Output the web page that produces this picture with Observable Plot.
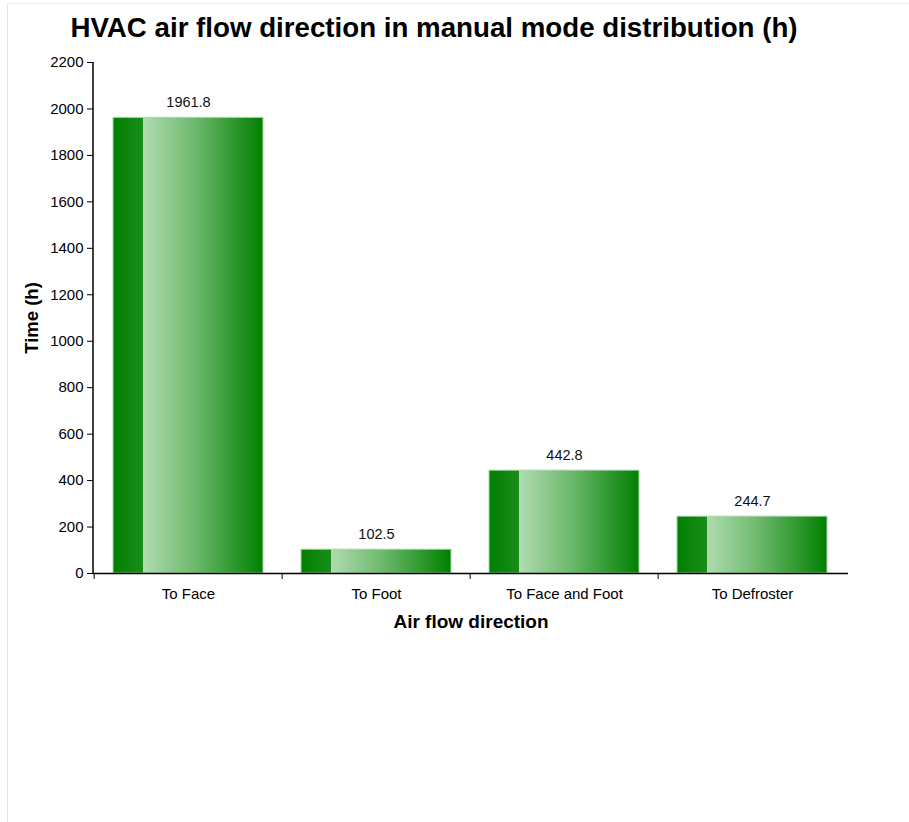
<!DOCTYPE html>
<html>
<head>
<meta charset="utf-8">
<script src="https://cdn.jsdelivr.net/npm/d3@7"></script>
<script src="https://cdn.jsdelivr.net/npm/@observablehq/plot@0.6"></script>
<style>
  html, body { margin: 0; padding: 0; background: #fff; }
  body { font-family: "Liberation Sans", Arial, sans-serif; }
  #frame { position: absolute; left: 7px; top: 3px; width: 940px; height: 900px;
           border-left: 1px solid #e3e3e3; border-top: 1px solid #eeeeee; pointer-events: none; }
  #title { box-sizing: border-box; height: 52px; padding-top: 3px; line-height: 49px; font-size: 27.7px; font-weight: bold; color: #000;
           text-align: center; width: 868px; white-space: nowrap; }
  #chart svg { display: block; }
</style>
</head>
<body>
<div id="frame"></div>
<div id="title">HVAC air flow direction in manual mode distribution (h)</div>
<div id="chart"></div>
<script>
const categories = ["To Face", "To Foot", "To Face and Foot", "To Defroster"];
const hours = [1961.8, 102.5, 442.8, 244.7];
const yTicks = [0, 200, 400, 600, 800, 1000, 1200, 1400, 1600, 1800, 2000, 2200];
const xTitle = "Air flow direction";
const yTitle = "Time (h)";

const data = categories.map((c, i) => ({category: c, value: hours[i]}));

const W = 909, ml = 93, mr = 61, mt = 10, mb = 70;
const step = (W - ml - mr) / categories.length;

const plot = Plot.plot({
  width: W,
  height: 591,
  marginLeft: ml,
  marginRight: mr,
  marginTop: mt,
  marginBottom: mb,
  style: {fontFamily: "'Liberation Sans', Arial, sans-serif", fontSize: "15px", color: "#000", background: "#fff"},
  x: {domain: categories, paddingInner: 0.2, paddingOuter: 0.1, label: null},
  y: {domain: [0, 2200], label: null},
  marks: [
    Plot.barY(data, {x: "category", y: "value", fill: "url(#barGrad)", stroke: "#a9d6a9", strokeWidth: 1}),
    Plot.text(data, {x: "category", y: "value", text: d => d.value.toFixed(1), dy: -15, fontSize: 14.5, fill: "#111"}),
    Plot.axisY({ticks: yTicks, tickSize: 6, tickPadding: 4, tickFormat: d => String(d), label: null, fontSize: 15}),
    Plot.axisX({tickSize: 0, tickPadding: 15, label: null, fontSize: 15}),
    Plot.axisX({tickSize: 6, text: null, label: null, dx: -step / 2}),
    Plot.ruleY([0], {stroke: "#000", strokeWidth: 1.5}),
    Plot.text([xTitle], {frameAnchor: "bottom", dy: 54, fontSize: 19, fontWeight: "bold", fill: "#000"}),
    Plot.text([yTitle], {frameAnchor: "left", textAnchor: "middle", dx: -61, rotate: -90, fontSize: 18.5, fontWeight: "bold", fill: "#000"})
  ]
});

// y axis line
const svg = d3.select(plot);
svg.append("line")
  .attr("x1", ml).attr("x2", ml)
  .attr("y1", mt).attr("y2", 591 - mb)
  .attr("stroke", "#000").attr("stroke-width", 1.5);

const defs = svg.insert("defs", ":first-child");
const g = defs.append("linearGradient").attr("id", "barGrad")
  .attr("x1", "0").attr("x2", "1").attr("y1", "0").attr("y2", "0");
[
  ["0%", "#008000"], ["20%", "#1a8c1a"],
  ["20%", "#b0dbb0"], ["55%", "#6bb86b"], ["100%", "#008000"]
].forEach(([o, c]) => g.append("stop").attr("offset", o).attr("stop-color", c));

document.getElementById("chart").appendChild(plot);
</script>
</body>
</html>
